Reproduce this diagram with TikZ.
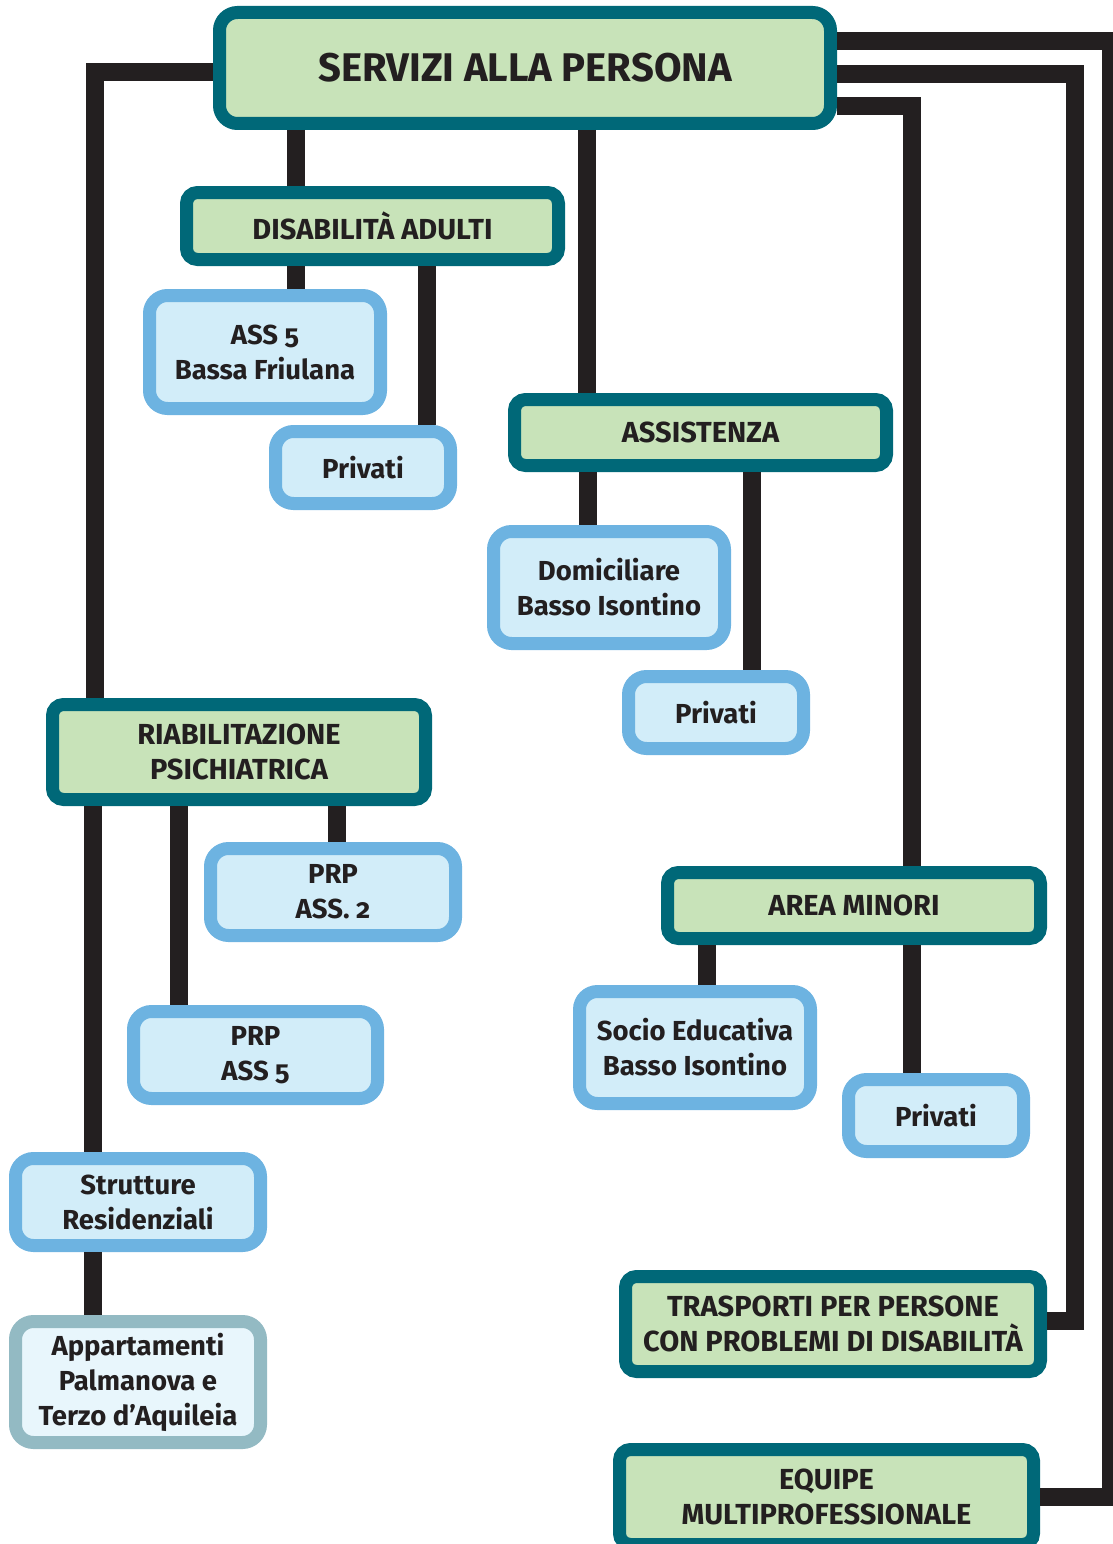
\documentclass[tikz,border=0pt]{standalone}
\usepackage{fontspec}
\setmainfont{Fira Sans}[Numbers=OldStyle]
\definecolor{tealbordo}{HTML}{006878}
\definecolor{verdefondo}{HTML}{C8E3B9}
\definecolor{blubordo}{HTML}{6DB3E1}
\definecolor{blufondo}{HTML}{D2EDF9}
\definecolor{grigiobordo}{HTML}{93BAC3}
\definecolor{palefondo}{HTML}{E8F6FC}
\definecolor{nero}{HTML}{231F20}
\tikzstyle{radice} = [rectangle, rounded corners=18pt, line width=13pt, draw=tealbordo, fill=verdefondo, text=nero, align=center, font=\bfseries\fontsize{40}{46}\selectfont]
\tikzstyle{area} = [rectangle, rounded corners=11pt, line width=13pt, draw=tealbordo, fill=verdefondo, text=nero, align=center, font=\bfseries\fontsize{29}{35}\selectfont]
\tikzstyle{servizio} = [rectangle, rounded corners=18pt, line width=13pt, draw=blubordo, fill=blufondo, text=nero, align=center, font=\bfseries\fontsize{27.5}{35}\selectfont]
\tikzstyle{alloggio} = [servizio, draw=grigiobordo, fill=palefondo]
\tikzstyle{linea} = [line width=18pt, draw=nero, line join=miter]

\begin{document}
\begin{tikzpicture}[x=1pt, y=-1pt]

    \clip (0,0) rectangle (1113,1544);

    % Nodi
    \node (servizi) [radice, minimum width=611pt, minimum height=111pt] at (525,68) {SERVIZI ALLA PERSONA};
    \node (disab) [area, minimum width=372pt, minimum height=67pt] at (372.5,226) {DISABILITÀ ADULTI};
    \node (ass5) [servizio, minimum width=231pt, minimum height=113pt] at (265,352) {ASS 5\\Bassa Friulana};
    \node (priv1) [servizio, minimum width=175pt, minimum height=72pt] at (363,467.5) {Privati};
    \node (assist) [area, minimum width=372pt, minimum height=66pt] at (700.5,432.5) {ASSISTENZA};
    \node (domic) [servizio, minimum width=231pt, minimum height=112pt] at (609,587.5) {Domiciliare\\Basso Isontino};
    \node (priv2) [servizio, minimum width=175pt, minimum height=72pt] at (716,712.5) {Privati};
    \node (riab) [area, minimum width=373pt, minimum height=95pt] at (239,752) {RIABILITAZIONE\\PSICHIATRICA};
    \node (prp2) [servizio, minimum width=245pt, minimum height=87pt] at (333,892) {PRP\\ASS. 2};
    \node (prp5) [servizio, minimum width=244pt, minimum height=87pt] at (255.5,1055) {PRP\\ASS 5};
    \node (strutt) [servizio, minimum width=245pt, minimum height=87pt] at (138,1202) {Strutture\\Residenziali};
    \node (appart) [alloggio, minimum width=245pt, minimum height=121pt] at (138,1382) {Appartamenti\\Palmanova e\\Terzo d’Aquileia};
    \node (minori) [area, minimum width=373pt, minimum height=66pt] at (854,905.5) {AREA MINORI};
    \node (socio) [servizio, minimum width=231pt, minimum height=112pt] at (695,1047.5) {Socio Educativa\\Basso Isontino};
    \node (priv3) [servizio, minimum width=175pt, minimum height=72pt] at (936,1115.5) {Privati};
    \node (trasp) [area, minimum width=415pt, minimum height=95pt] at (833,1324) {TRASPORTI PER PERSONE\\CON PROBLEMI DI DISABILITÀ};
    \node (equipe) [area, minimum width=414pt, minimum height=95pt] at (826.5,1497) {EQUIPE\\MULTIPROFESSIONALE};

    % Linee
    \draw [linea] ([yshift=-4pt]servizi.west) -| (riab.north -| 95,0);
    \draw [linea] (servizi.south -| 296,0) -- (disab.north -| 296,0);
    \draw [linea] (servizi.south -| 587,0) -- (assist.north -| 587,0);
    \draw [linea] ([yshift=27pt]servizi.east) -- ++(274,0) |- (equipe.east);
    \draw [linea] ([yshift=-6pt]servizi.east) -- ++(238,0) |- ([yshift=3pt]trasp.east);
    \draw [linea] ([yshift=-38pt]servizi.east) -| ([xshift=58pt]minori.north);
    \draw [linea] (disab.south -| 296,0) -- (ass5.north -| 296,0);
    \draw [linea] (disab.south -| 427,0) -- (priv1.north -| 427,0);
    \draw [linea] (assist.south -| 588,0) -- (domic.north -| 588,0);
    \draw [linea] (assist.south -| 752,0) -- (priv2.north -| 752,0);
    \draw [linea] (riab.south -| 93,0) -- (strutt.north -| 93,0);
    \draw [linea] (riab.south -| 179,0) -- (prp5.north -| 179,0);
    \draw [linea] (riab.south -| 337,0) -- (prp2.north -| 337,0);
    \draw [linea] (strutt.south -| 93,0) -- (appart.north -| 93,0);
    \draw [linea] (minori.south -| 707,0) -- (socio.north -| 707,0);
    \draw [linea] (minori.south -| 912,0) -- (priv3.north -| 912,0);

\end{tikzpicture}
\end{document}
